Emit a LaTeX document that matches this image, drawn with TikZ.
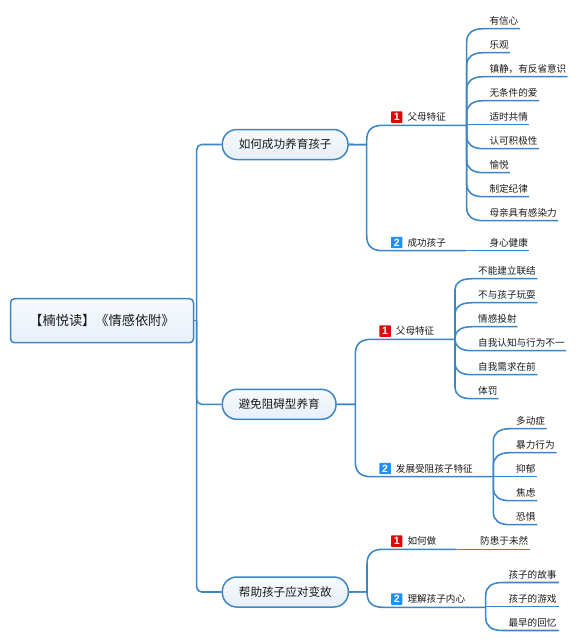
\documentclass[tikz,border=0pt]{standalone}
\usepackage{fontspec}
\setmainfont{Noto Sans CJK SC}
\newfontfamily\badgefont{Liberation Sans}
\definecolor{linec}{HTML}{3C86C6}
\definecolor{topf}{HTML}{F6FAFD}
\definecolor{botf}{HTML}{E7EFF8}
\definecolor{inkc}{HTML}{1A1A1A}
\definecolor{badgered}{HTML}{DB0A0A}
\definecolor{badgeblue}{HTML}{1E90FF}
\tikzset{
  conn/.style={draw=linec,line width=1.55pt,line join=round},
  rootbox/.style={draw=linec,line width=1.5pt,top color=topf,bottom color=botf,rounded corners=4pt,inner sep=0pt,text=inkc,font=\fontsize{13.2}{14}\selectfont},
  topicbox/.style={draw=linec,line width=1.5pt,top color=topf,bottom color=botf,rounded corners=14.5pt,inner sep=0pt,text=inkc,minimum height=30pt,font=\fontsize{11.6}{12}\selectfont},
  leaftext/.style={anchor=west,inner sep=0pt,text=inkc,font=\fontsize{9.6}{10}\selectfont},
  badge/.style={anchor=center,inner sep=0pt,minimum width=11.4pt,minimum height=11.4pt,rounded corners=0.6pt,text=white,font=\badgefont\bfseries\fontsize{10.5}{11}\selectfont},
}
\begin{document}
\begin{tikzpicture}[x=1pt,y=-1pt]
\useasboundingbox (0,0) rectangle (579,642);
% centre and topics
\node[rootbox,minimum width=183pt,minimum height=44pt] (root) at (102,320.7) {【楠悦读】《情感依附》};
\node[topicbox,minimum width=125.7pt] (n1) at (285.15,144.5) {如何成功养育孩子};
\node[topicbox,minimum width=113.7pt] (n2) at (279.15,404.3) {避免阻碍型养育};
\node[topicbox,minimum width=126pt] (n3) at (285.3,592) {帮助孩子应对变故};
\coordinate (t) at (196.7,320.7);
\draw[conn,rounded corners=5pt] (n1.west) -| (t);
\draw[conn,rounded corners=5pt] (n2.west) -| (t);
\draw[conn,rounded corners=5pt] (n3.west) -| (t);
\draw[conn] (root.east) -- (t);
% first level branches
\foreach \src/\bx/\by/\jn/\ty/\tx/\jx/\lbl/\col/\bn in {
  n1/366.7/144.6/j11/125.3/407.3/466.7/父母特征/badgered/1,
  n1/366.7/144.6/j12/250.7/407.3/466.7/成功孩子/badgeblue/2,
  n2/355.3/404.3/j21/339.3/395.7/455/父母特征/badgered/1,
  n2/355.3/404.3/j22/476.7/395.7/493.3/发展受阻孩子特征/badgeblue/2,
  n3/367/591.8/j31/549.3/407.3/456.7/如何做/badgered/1,
  n3/367/591.8/j32/607.3/407.3/485.7/理解孩子内心/badgeblue/2}{
  \pgfmathsetmacro\sg{\ty<\by ? 1 : -1}
  \coordinate (\jn) at (\jx,\ty);
  \draw[conn] (\src.east) -- (\bx,\by) -- (\bx,{\ty+15*\sg}) .. controls (\bx,{\ty+5*\sg}) and ({\bx+5},\ty) .. ({\bx+16},\ty) -- (\jn);
  \node[leaftext] (lbl\jn) at (\tx,{\ty-8.2}) {\lbl};
  \node[badge,fill=\col] (bdg\jn) at ({\tx-10.6},{\ty-8.2}) {\bn};
}
% leaves of 如何成功养育孩子 / 父母特征
\def\px{466.7}\def\tx{489.3}
\foreach \id/\y/\s/\xe/\txt in {
  a1/28.7/1/520/有信心,
  a2/52.7/1/510/乐观,
  a3/76.7/1/567.7/{镇静，有反省意识},
  a4/100.7/1/539/无条件的爱,
  a5/124.7/0/529.3/适时共情,
  a6/148.7/-1/539/认可积极性,
  a7/172.7/-1/510/愉悦,
  a8/196.7/-1/529/制定纪律,
  a9/220.7/-1/558/母亲具有感染力}{
  \node[leaftext] (\id) at (\tx,{\y-8}) {\txt};
  \coordinate (\id e) at (\xe,\y);
  \draw[conn] (j11) -- (\px,{\y+13*\s}) .. controls (\px,{\y+4*\s}) and ({\px+6},\y) .. ({\px+17},\y) -- (\id e);
}
% 身心健康
\node[leaftext] (a10) at (489.3,242.7) {身心健康};
\coordinate (a10e) at (529.3,250.7);
\draw[conn] (j12) -- (a10e);
% leaves of 避免阻碍型养育 / 父母特征
\def\px{455}\def\tx{478}
\foreach \id/\y/\s/\xe/\txt in {
  b1/278.7/1/537.3/不能建立联结,
  b2/302.7/1/537.3/不与孩子玩耍,
  b3/326.7/1/517.7/情感投射,
  b4/350.7/-1/566/自我认知与行为不一,
  b5/374.7/-1/537.3/自我需求在前,
  b6/398.7/-1/498.7/体罚}{
  \node[leaftext] (\id) at (\tx,{\y-8}) {\txt};
  \coordinate (\id e) at (\xe,\y);
  \draw[conn] (j21) -- (\px,{\y+11*\s}) .. controls (\px,{\y+4*\s}) and ({\px+6},\y) .. ({\px+17},\y) -- (\id e);
}
% leaves of 发展受阻孩子特征
\def\px{493.3}\def\tx{516}
\foreach \id/\y/\s/\xe/\txt in {
  c1/428.7/1/546.7/多动症,
  c2/452.7/1/556.7/暴力行为,
  c3/476.7/0/537.3/抑郁,
  c4/500.7/-1/537.3/焦虑,
  c5/524.7/-1/537.3/恐惧}{
  \node[leaftext] (\id) at (\tx,{\y-8}) {\txt};
  \coordinate (\id e) at (\xe,\y);
  \draw[conn] (j22) -- (\px,{\y+13*\s}) .. controls (\px,{\y+4*\s}) and ({\px+6},\y) .. ({\px+17},\y) -- (\id e);
}
% 防患于未然
\node[leaftext] (d1) at (480,541) {防患于未然};
\coordinate (d1e) at (530,549.3);
\draw[conn] (j31) -- (d1e);
% leaves of 理解孩子内心
\def\px{485.7}\def\tx{508.3}
\foreach \id/\y/\s/\xe/\txt in {
  e1/582.5/1/559/孩子的故事,
  e2/606.5/0/559/孩子的游戏,
  e3/630.5/-1/559/最早的回忆}{
  \node[leaftext] (\id) at (\tx,{\y-8}) {\txt};
  \coordinate (\id e) at (\xe,\y);
  \draw[conn] (j32) -- (\px,{\y+13*\s}) .. controls (\px,{\y+4*\s}) and ({\px+6},\y) .. ({\px+17},\y) -- (\id e);
}
\end{tikzpicture}
\end{document}
